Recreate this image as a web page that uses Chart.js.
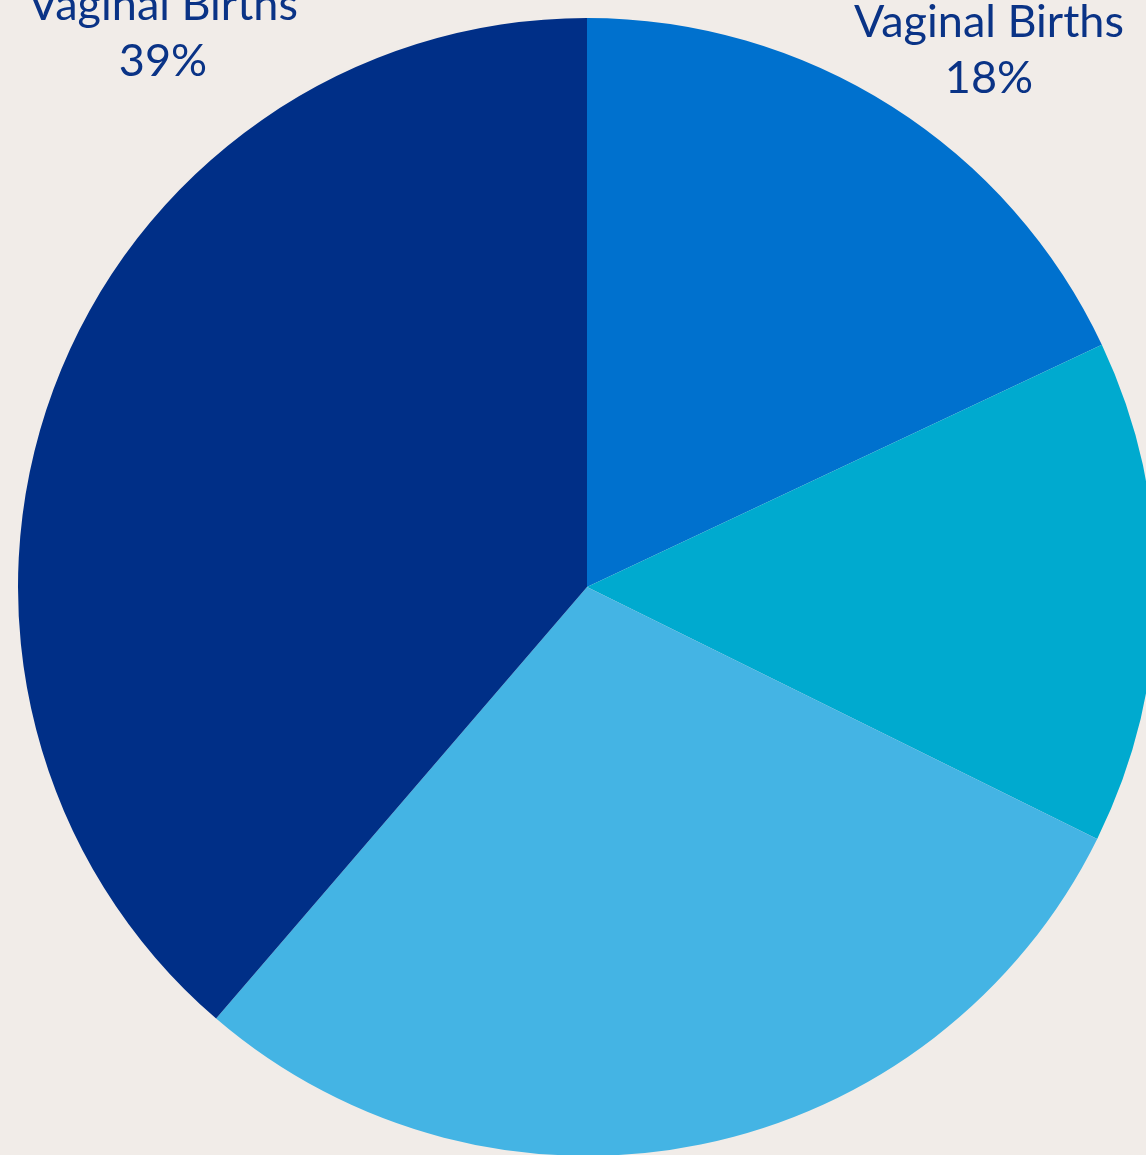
<!DOCTYPE html>
<html>
<head>
<meta charset="utf-8">
<script src="https://cdn.jsdelivr.net/npm/chart.js@4/dist/chart.umd.min.js"></script>
<style>
  html, body { margin: 0; padding: 0; background: #F1ECE8; width: 1146px; height: 1155px; overflow: hidden; }
  #wrap { position: absolute; left: 0; top: 0; width: 1174px; height: 1174px; }
</style>
</head>
<body>
<div id="wrap"><canvas id="pie" width="1174" height="1174"></canvas></div>
<script>
const labels = ['Vaginal Births', 'Category 2', 'Category 3', 'Vaginal Births'];
const values = [18, 14.3, 29, 38.7];
const percentLabels = ['18%', '14%', '29%', '39%'];
const sliceColors = ['#0071CE', '#00AACF', '#44B4E4', '#002F87'];
const shownLabels = [0, 3];

// text labels sit outside the pie, placed relative to the pie centre
const labelOffsets = { 0: { dx: 402, dy: -550 }, 3: { dx: -424, dy: -567 } };

const outsideLabels = {
    id: 'outsideLabels',
    afterDraw(chart) {
        const ctx = chart.ctx;
        const arc = chart.getDatasetMeta(0).data[0];
        ctx.save();
        ctx.fillStyle = '#0A3386';
        ctx.font = '45px Lato';
        ctx.textAlign = 'center';
        ctx.textBaseline = 'alphabetic';
        shownLabels.forEach(i => {
            const off = labelOffsets[i];
            const x = arc.x + off.dx;
            const y = arc.y + off.dy;
            ctx.fillText(labels[i], x, y);
            ctx.fillText(percentLabels[i], x, y + 56);
        });
        ctx.restore();
    }
};

new Chart(document.getElementById('pie').getContext('2d'), {
    type: 'pie',
    data: {
        labels: labels,
        datasets: [{
            data: values,
            backgroundColor: sliceColors,
            borderWidth: 0
        }]
    },
    options: {
        responsive: false,
        animation: false,
        layout: { padding: 18 },
        plugins: { legend: { display: false }, tooltip: { enabled: false } }
    },
    plugins: [outsideLabels]
});
</script>
</body>
</html>
